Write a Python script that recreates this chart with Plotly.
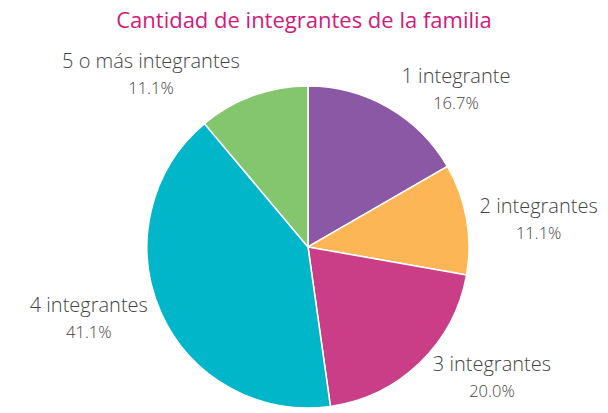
import plotly.graph_objects as go

# Families by number of members (count of households)
categorias = ["1 integrante", "2 integrantes", "3 integrantes", "4 integrantes", "5 o más integrantes"]
hogares = [15, 10, 18, 37, 10]
colores = ["#8B58A5", "#FDB656", "#CA3E87", "#00B6C8", "#84C66E"]

fig = go.Figure(
    go.Pie(
        labels=categorias,
        values=hogares,
        sort=False,
        direction="clockwise",
        rotation=0,
        marker=dict(colors=colores, line=dict(color="white", width=1.5)),
        textposition="outside",
        texttemplate="%{label}<br><span style='font-size:16.5px'>%{percent:.1%}</span>",
        textfont=dict(family="Open Sans", size=20, color="#444444", weight=300),
        hoverinfo="label+percent",
        showlegend=False,
        domain=dict(x=[145 / 608, 471 / 608], y=[0, 326 / 413]),
    )
)

fig.update_layout(
    width=608,
    height=413,
    margin=dict(l=0, r=0, t=0, b=0),
    paper_bgcolor="white",
    title=dict(
        text="Cantidad de integrantes de la familia",
        font=dict(family="Open Sans", size=22, color="#D01A7E", weight=400),
        x=0.5,
        xanchor="center",
        y=1 - 20 / 413,
        yanchor="middle",
    ),
)

fig.write_html("out.html")
